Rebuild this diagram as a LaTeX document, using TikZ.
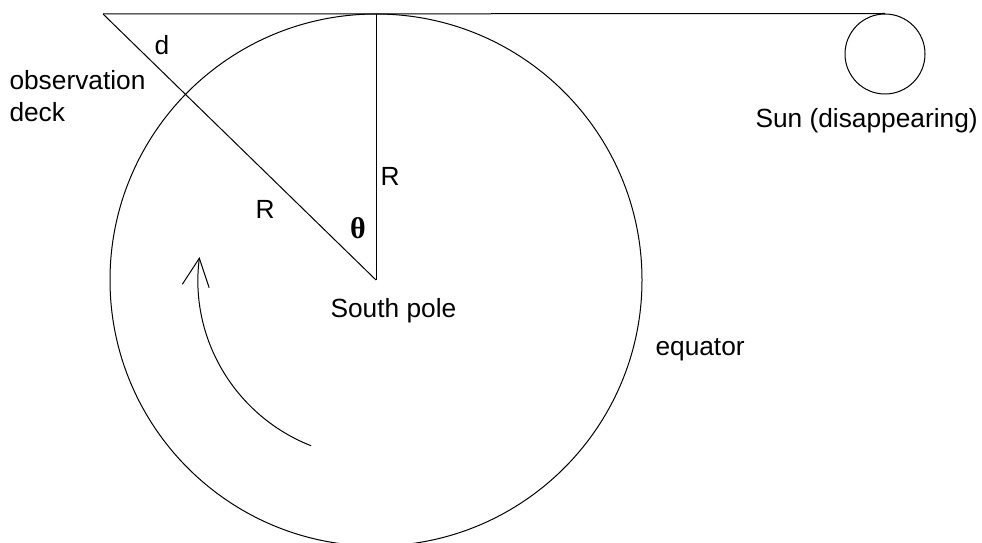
\documentclass[tikz,border=0pt]{standalone}
\usepackage{fontspec}
\setmainfont{Liberation Sans}
\newfontfamily\thetafont{Liberation Serif}
\usetikzlibrary{arrows.meta}
\begin{document}
\begin{tikzpicture}[x=1pt,y=1pt,line width=1pt,
  lbl/.style={inner sep=0pt,font=\fontsize{26.3}{31}\selectfont},
  barb/.style={-{Straight Barb[length=28pt,width=27pt,line width=1pt]}}]
\useasboundingbox (0,0) rectangle (982,542);
% geometry
\coordinate (C) at (376,262);
\coordinate (A) at (103,528);
\coordinate (T) at (376,528);
\node[draw,circle,minimum size=532pt,inner sep=0pt] (earth) at (C) {};
\node[draw,circle,minimum size=80pt,inner sep=0pt] (sun) at (885,488) {};
\draw (A) -- (sun.north);
\draw (A) -- (C);
\draw (T) -- (C);
% rotation arrow
\draw[barb] ([shift={(248.6:178)}]C) arc[start angle=248.6,end angle=172.6,radius=178];
% labels
\node[lbl] (d) at (162,497) {d};
\node[lbl,anchor=base west] (obs) at (9,452) {observation};
\node[lbl,anchor=base west] (deck) at (9,420) {deck};
\node[lbl,anchor=base west] (sunl) at (755,414) {Sun (disappearing)};
\node[lbl,anchor=base west] (sp) at (330,225) {South pole};
\node[lbl,anchor=base west] (eq) at (655,187) {equator};
\node[lbl,anchor=base] (R1) at (265,324) {R};
\node[lbl,anchor=base west] (R2) at (380,357) {R};
\node[inner sep=0pt,font=\fontsize{30}{34}\selectfont] (th) at (358,314) {\thetafont\bfseries θ};
\end{tikzpicture}
\end{document}
